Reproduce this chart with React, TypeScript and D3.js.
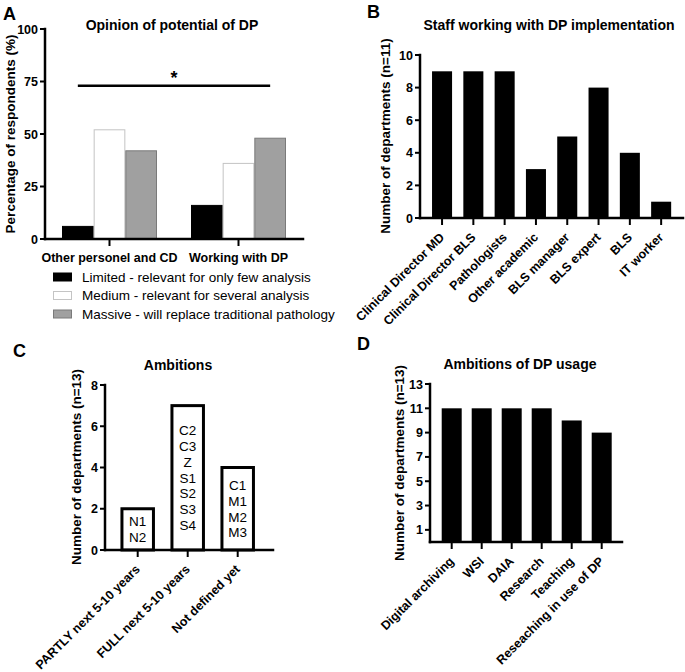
import * as d3 from "d3";

const FONT = "'Liberation Sans', Arial, Helvetica, sans-serif";

// A - opinion of potential of DP
const opinionGroups = ["Other personel and CD", "Working with DP"];
const opinionLevels = [
  "Limited - relevant for only few analysis",
  "Medium - relevant for several analysis",
  "Massive - will replace traditional pathology",
];
const opinionValues = [
  [6, 52, 42],
  [16, 36, 48],
];
const opinionTicks = [0, 25, 50, 75, 100];
const opinionSignificance = 73;

// B - staff working with DP implementation
const staffRoles = [
  "Clinical Director MD",
  "Clinical Director BLS",
  "Pathologists",
  "Other academic",
  "BLS manager",
  "BLS expert",
  "BLS",
  "IT worker",
];
const staffCounts = [9, 9, 9, 3, 5, 8, 4, 1];
const staffTicks = [0, 2, 4, 6, 8, 10];

// C - ambitions
const ambitionCats = ["PARTLY next 5-10 years", "FULL next 5-10 years", "Not defined yet"];
const ambitionCounts = [2, 7, 4];
const ambitionDepts = [
  ["N1", "N2"],
  ["C2", "C3", "Z", "S1", "S2", "S3", "S4"],
  ["C1", "M1", "M2", "M3"],
];
const ambitionTicks = [0, 2, 4, 6, 8];

// D - ambitions of DP usage
const usageCats = ["Digital archiving", "WSI", "DAIA", "Research", "Teaching", "Reseaching in use of DP"];
const usageCounts = [11, 11, 11, 11, 10, 9];
const usageTicks = [1, 3, 5, 7, 9, 11, 13];

const levelFill = ["#000000", "#ffffff", "#a0a0a0"];
const levelStroke = ["#000000", "#c4c4c4", "#7a7a7a"];

const AXIS_W = 2.5;

function YAxis({ y, x, ticks, x2, top, bottom }) {
  return (
    <g>
      <line x1={x} x2={x} y1={top} y2={bottom} stroke="#000" strokeWidth={AXIS_W} strokeLinecap="square" />
      <line x1={x} x2={x2} y1={bottom} y2={bottom} stroke="#000" strokeWidth={AXIS_W} strokeLinecap="square" />
      {ticks.map((t) => (
        <g key={t}>
          <line x1={x - 5} x2={x} y1={y(t)} y2={y(t)} stroke="#000" strokeWidth={2} />
          <text x={x - 7} y={y(t)} dy="0.36em" textAnchor="end" fontSize={12.5} fontWeight="bold">
            {t}
          </text>
        </g>
      ))}
    </g>
  );
}

function RotatedLabels({ x, cats, axisY }) {
  return (
    <g>
      {cats.map((c) => {
        const cx = x(c) + x.bandwidth() / 2;
        return (
          <g key={c}>
            <line x1={cx} x2={cx} y1={axisY} y2={axisY + 7} stroke="#000" strokeWidth={2} />
            <text
              transform={`translate(${cx + 3},${axisY + 20}) rotate(-45)`}
              textAnchor="end"
              fontSize={12.5}
              fontWeight="bold"
            >
              {c}
            </text>
          </g>
        );
      })}
    </g>
  );
}

function YLabel({ x, y, text }) {
  return (
    <text transform={`translate(${x},${y}) rotate(-90)`} textAnchor="middle" fontSize={13.5} fontWeight="bold">
      {text}
    </text>
  );
}

function PanelA() {
  const y = d3.scaleLinear().domain([0, 100]).range([239, 29]);
  const x0 = d3.scaleBand().domain(opinionGroups).range([45, 303]).padding(0);
  const inner = 95;
  const x1 = d3
    .scaleBand()
    .domain(opinionLevels)
    .range([(x0.bandwidth() - inner) / 2, (x0.bandwidth() + inner) / 2]);
  const sigX1 = x0(opinionGroups[0]) + x1(opinionLevels[0]) + x1.bandwidth() / 2;
  const sigX2 = x0(opinionGroups[1]) + x1(opinionLevels[2]) + x1.bandwidth() / 2;

  return (
    <g>
      <text x={3} y={20} fontSize={18} fontWeight="bold">A</text>
      <text x={172} y={30} textAnchor="middle" fontSize={14} fontWeight="bold">
        Opinion of potential of DP
      </text>
      {opinionGroups.map((g, gi) => (
        <g key={g} transform={`translate(${x0(g)},0)`}>
          {opinionLevels.map((l, li) => (
            <rect
              key={l}
              x={x1(l) + 0.5}
              y={y(opinionValues[gi][li])}
              width={x1.bandwidth() - 1}
              height={y(0) - y(opinionValues[gi][li])}
              fill={levelFill[li]}
              stroke={levelStroke[li]}
              strokeWidth={1}
            />
          ))}
        </g>
      ))}
      <YAxis y={y} x={45} ticks={opinionTicks} x2={303} top={29} bottom={239} />
      {opinionGroups.map((g) => {
        const cx = x0(g) + x0.bandwidth() / 2;
        return (
          <g key={g}>
            <line x1={cx} x2={cx} y1={239} y2={246} stroke="#000" strokeWidth={2} />
            <text x={cx} y={262} textAnchor="middle" fontSize={12.5} fontWeight="bold">
              {g}
            </text>
          </g>
        );
      })}
      <line x1={sigX1} x2={sigX2} y1={y(opinionSignificance)} y2={y(opinionSignificance)} stroke="#000" strokeWidth={2.5} />
      <text x={(sigX1 + sigX2) / 2} y={y(opinionSignificance) - 2} textAnchor="middle" fontSize={18} fontWeight="bold">
        *
      </text>
      <YLabel x={15} y={134} text="Percentage of respondents (%)" />
      {opinionLevels.map((l, li) => (
        <g key={l} transform={`translate(53,${277 + li * 18.5})`}>
          <rect x={0.5} y={-4} width={18} height={8} fill={levelFill[li]} stroke={levelStroke[li]} strokeWidth={1} />
          <text x={29} y={0} dy="0.36em" fontSize={13.5}>
            {l}
          </text>
        </g>
      ))}
    </g>
  );
}

function PanelB() {
  const y = d3.scaleLinear().domain([0, 10]).range([218, 55]);
  const x = d3
    .scaleBand()
    .domain(staffRoles)
    .range([426.4, 676.8])
    .paddingInner(0.36)
    .paddingOuter(0.18);
  return (
    <g>
      <text x={367} y={18} fontSize={18} fontWeight="bold">B</text>
      <text x={549} y={30} textAnchor="middle" fontSize={14} fontWeight="bold">
        Staff working with DP implementation
      </text>
      {staffRoles.map((r, i) => (
        <rect key={r} x={x(r)} y={y(staffCounts[i])} width={x.bandwidth()} height={y(0) - y(staffCounts[i])} fill="#000" />
      ))}
      <YAxis y={y} x={420} ticks={staffTicks} x2={683} top={55} bottom={218} />
      <RotatedLabels x={x} cats={staffRoles} axisY={218} />
      <YLabel x={390} y={136} text="Number of departments (n=11)" />
    </g>
  );
}

function PanelC() {
  const y = d3.scaleLinear().domain([0, 8]).range([550, 385]);
  const x = d3
    .scaleBand()
    .domain(ambitionCats)
    .range([112.7, 262.7])
    .paddingInner(0.37)
    .paddingOuter(0.185);
  const lineH = 15.8;
  return (
    <g>
      <text x={13} y={357} fontSize={18} fontWeight="bold">C</text>
      <text x={178} y={370} textAnchor="middle" fontSize={14} fontWeight="bold">
        Ambitions
      </text>
      {ambitionCats.map((c, i) => {
        const top = y(ambitionCounts[i]);
        const cx = x(c) + x.bandwidth() / 2;
        const names = ambitionDepts[i];
        const mid = (top + y(0)) / 2;
        return (
          <g key={c}>
            <rect x={x(c)} y={top} width={x.bandwidth()} height={y(0) - top} fill="#fff" stroke="#000" strokeWidth={3} />
            {names.map((n, k) => (
              <text
                key={n}
                x={cx}
                y={mid + (k - (names.length - 1) / 2) * lineH}
                dy="0.36em"
                textAnchor="middle"
                fontSize={13.5}
              >
                {n}
              </text>
            ))}
          </g>
        );
      })}
      <YAxis y={y} x={105} ticks={ambitionTicks} x2={273} top={385} bottom={550} />
      <RotatedLabels x={x} cats={ambitionCats} axisY={550} />
      <YLabel x={81} y={467} text="Number of departments (n=13)" />
    </g>
  );
}

function PanelD() {
  const y = d3.scaleLinear().domain([0, 13]).range([542, 384]);
  const x = d3
    .scaleBand()
    .domain(usageCats)
    .range([436.7, 616.7])
    .paddingInner(1 / 3)
    .paddingOuter(1 / 6);
  return (
    <g>
      <text x={357} y={350} fontSize={18} fontWeight="bold">D</text>
      <text x={520} y={369} textAnchor="middle" fontSize={14} fontWeight="bold">
        Ambitions of DP usage
      </text>
      {usageCats.map((c, i) => (
        <rect key={c} x={x(c)} y={y(usageCounts[i])} width={x.bandwidth()} height={y(0) - y(usageCounts[i])} fill="#000" />
      ))}
      <YAxis y={y} x={430} ticks={usageTicks} x2={622} top={384} bottom={542} />
      <RotatedLabels x={x} cats={usageCats} axisY={542} />
      <YLabel x={404} y={463} text="Number of departments (n=13)" />
    </g>
  );
}

export default function App() {
  return (
    <div style={{ position: "absolute", left: 0, top: 0 }}>
      <svg width={685} height={672} style={{ display: "block", background: "#fff" }} fontFamily={FONT}>
        <PanelA />
        <PanelB />
        <PanelC />
        <PanelD />
      </svg>
    </div>
  );
}
